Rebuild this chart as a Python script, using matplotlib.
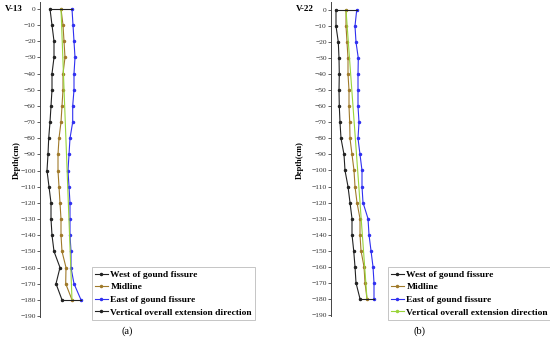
import matplotlib
matplotlib.use("Agg")
import matplotlib.pyplot as plt
from matplotlib.lines import Line2D

depth = [0, -10, -20, -30, -40, -50, -60, -70, -80, -90, -100,
         -110, -120, -130, -140, -150, -160, -170, -180]
yticks = list(range(0, -191, -10))

# V-13 horizontal offsets
west_a = [10, 12, 14, 14, 12, 12, 11, 10, 8.7, 8, 7, 9, 11, 11, 12, 14, 20, 16, 22]
mid_a = [21, 23, 24, 25, 23, 23, 22, 21, 19, 18, 18, 19, 20, 21, 21, 22, 26, 25.7, 32]
east_a = [32, 33, 34, 35, 34, 34, 32.7, 32.7, 30, 29, 28, 29, 30, 30, 30, 31, 31, 34, 41]

# V-22 horizontal offsets
west_b = [5, 5, 7.3, 8, 8.3, 8, 8.3, 9, 10, 13, 14, 17, 19, 21, 21, 22.7, 24, 25, 29]
mid_b = [15, 15, 16, 17, 17, 18, 18, 18.7, 19, 21, 23, 24, 26, 29, 29, 30, 33, 34, 36]
east_b = [25.7, 24, 25, 27.3, 27, 27, 27, 28, 27, 29, 31, 31, 32, 37, 38, 40, 42, 43, 43]

names = ["West of gound fissure", "Midline", "East of gound fissure",
         "Vertical overall extension direction"]
c_west = "#222222"
c_mid = "#a07a2a"
c_east = "#3030f0"
c_green = "#9ad43a"

W, H = 550, 340
fig = plt.figure(figsize=(5.5, 3.4), dpi=100)
serif = "Liberation Serif"


def panel(left, right, top, bottom, ylim, west, mid, east, title, tx, ylab_x,
          leg_xy, letter, letter_x, vert_color):
    ax = fig.add_axes([left / W, 1 - bottom / H, (right - left) / W, (bottom - top) / H])
    ax.plot(west, depth, color=c_west, lw=0.8, marker="o", ms=1.5)
    ax.plot(mid, depth, color=c_mid, lw=0.8, marker="o", ms=1.5)
    ax.plot(east, depth, color=c_east, lw=0.8, marker="o", ms=1.5)
    ax.plot([mid[0], mid[-1]], [depth[0], depth[-1]], color=c_green, lw=0.8)
    ax.plot([west[0], east[0]], [depth[0], depth[0]], color=c_west, lw=0.8)
    ax.plot([west[-1], east[-1]], [depth[-1], depth[-1]], color=c_west, lw=0.8)
    ax.set_xlim(0, right - left)
    ax.set_ylim(*ylim)
    for s in ["top", "right", "bottom"]:
        ax.spines[s].set_visible(False)
    ax.spines["left"].set_linewidth(0.7)
    ax.spines["left"].set_color("#444444")
    ax.set_xticks([])
    ax.set_yticks(yticks)
    ax.tick_params(axis="y", length=2, width=0.6, pad=1, labelsize=5.4,
                   labelcolor="#333333", color="#444444")
    for t in ax.get_yticklabels():
        t.set_fontfamily(serif)
    ax.patch.set_alpha(0)

    fig.text(tx / W, 1 - 9 / H, title, ha="left", va="center", fontsize=6.5,
             fontweight="bold", family=serif)
    fig.text(ylab_x / W, 1 - 160 / H, "Depth(cm)", ha="center", va="center",
             rotation=90, fontsize=6, fontweight="bold", family=serif)

    handles = [
        Line2D([], [], color=c_west, lw=0.8, marker="o", ms=1.5),
        Line2D([], [], color=c_mid, lw=0.8, marker="o", ms=1.5),
        Line2D([], [], color=c_east, lw=0.8, marker="o", ms=1.5),
        Line2D([], [], color=vert_color, lw=0.8, marker="o", ms=1.5),
    ]
    leg = fig.legend(handles, names, loc="upper left",
                     bbox_to_anchor=(leg_xy[0] / W, 1 - leg_xy[1] / H),
                     prop={"family": serif, "weight": "bold", "size": 6.8},
                     frameon=True, fancybox=False, edgecolor="#aaaaaa",
                     handlelength=1.3, handletextpad=0.3, labelspacing=0.42,
                     borderpad=0.35, borderaxespad=0)
    leg.get_frame().set_linewidth(0.6)
    fig.text(letter_x / W, 1 - 331 / H, letter, ha="center", va="center",
             fontsize=7.5, family=serif)


panel(40, 255, 2, 317, (-190.6, 4.3), west_a, mid_a, east_a, "V-13", 5, 16.5,
      (92, 267), "(a)", 127, c_west)
panel(331, 548, 2, 316, (-190.7, 5.0), west_b, mid_b, east_b, "V-22", 296, 300,
      (388, 267), "(b)", 420, c_green)

fig.savefig("out.png", dpi=100, facecolor="white")
